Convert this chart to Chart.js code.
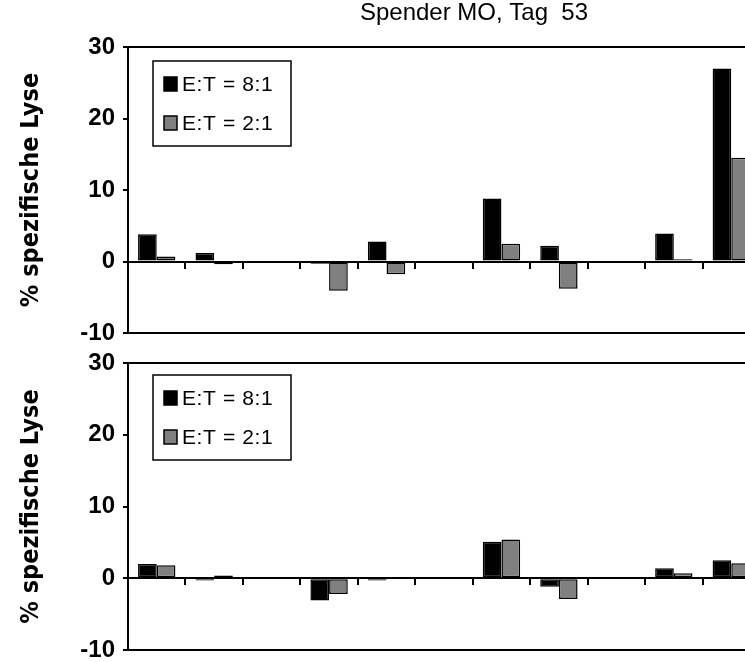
<!DOCTYPE html>
<html>
<head>
<meta charset="utf-8">
<script src="https://cdn.jsdelivr.net/npm/chart.js@4.4.1/dist/chart.umd.min.js"></script>
<style>
  html, body { margin: 0; padding: 0; background: #fff; overflow: hidden; }
  #wrap { position: relative; width: 745px; height: 662px; overflow: hidden; }
  .box { position: absolute; left: 0; width: 762px; }
</style>
</head>
<body>
<div id="wrap">
  <div class="box" style="top:0;height:360px"><canvas id="chartTop"></canvas></div>
  <div class="box" style="top:335px;height:342px"><canvas id="chartBottom"></canvas></div>
</div>
<script>
// 11 sample positions, three of them empty
const categories = ['1', '2', '3', '4', '5', '6', '7', '8', '9', '10', '11'];
const seriesNames = ['E:T = 8:1', 'E:T = 2:1'];
const yTicks = [-10, 0, 10, 20, 30];

// upper panel (Spender MO, Tag 53)
const topRatio8 = [3.8, 1.2, null, -0.3, 2.8, null, 8.8, 2.2, null, 3.9, 27.0];
const topRatio2 = [0.7, -0.4, null, -4.1, -1.8, null, 2.5, -3.8, null, 0.3, 14.5];

// lower panel
const bottomRatio8 = [2.0, -0.3, null, -3.1, -0.3, null, 5.1, -1.2, null, 1.4, 2.5];
const bottomRatio2 = [1.8, 0.4, null, -2.2, 0.1, null, 5.4, -2.9, null, 0.7, 2.1];

const titleText = 'Spender MO, Tag  53';
const yTitle = '% spezifische Lyse';

const frameBox = {
  id: 'frameBox',
  afterDraw(chart, args, opts) {
    const ctx = chart.ctx;
    const a = chart.chartArea;
    ctx.save();
    ctx.strokeStyle = '#000';
    ctx.lineWidth = 2;
    ctx.beginPath();
    ctx.moveTo(a.left, a.top);
    ctx.lineTo(a.right, a.top);
    ctx.lineTo(a.right, a.bottom);
    ctx.lineTo(a.left, a.bottom);
    ctx.stroke();

    // legend box
    const bx = a.left + 25, by = a.top + opts.legendTop, bw = 138, bh = 85;
    ctx.fillStyle = '#fff';
    ctx.fillRect(bx, by, bw, bh);
    ctx.lineWidth = 1.5;
    ctx.strokeRect(bx, by, bw, bh);
    ctx.font = '21px "Liberation Sans", Arial, sans-serif';
    ctx.letterSpacing = '0.6px';
    ctx.textBaseline = 'middle';
    chart.data.datasets.forEach((ds, i) => {
      const cy = by + 23 + i * 39;
      ctx.fillStyle = ds.backgroundColor;
      ctx.fillRect(bx + 11, cy - 7, 13, 14);
      ctx.lineWidth = 1.5;
      ctx.strokeStyle = '#000';
      ctx.strokeRect(bx + 11, cy - 7, 13, 14);
      ctx.fillStyle = '#000';
      ctx.fillText(ds.label, bx + 29, cy + 1);
    });
    ctx.letterSpacing = '0px';

    if (opts.title) {
      ctx.font = '24px "Liberation Sans", Arial, sans-serif';
      ctx.textAlign = 'center';
      ctx.textBaseline = 'middle';
      ctx.fillStyle = '#000';
      ctx.fillText(opts.title, 474, 13);
    }
    ctx.restore();
  }
};

function makeChart(id, high, low, pad, title, legendTop) {
  return new Chart(document.getElementById(id), {
    type: 'bar',
    data: {
      labels: categories,
      datasets: [
        { label: seriesNames[0], data: high, backgroundColor: '#000000',
          borderColor: '#000000', borderWidth: 1.5, borderSkipped: false },
        { label: seriesNames[1], data: low, backgroundColor: '#808080',
          borderColor: '#000000', borderWidth: 1.5, borderSkipped: false }
      ]
    },
    options: {
      responsive: true,
      maintainAspectRatio: false,
      animation: false,
      layout: { padding: { left: 0, right: 2, top: pad.top, bottom: pad.bottom } },
      categoryPercentage: 0.65,
      barPercentage: 1.0,
      scales: {
        x: {
          position: { y: 0 },
          afterFit(scale) { scale.height = 0; },
          ticks: { display: false },
          grid: { offset: true, drawOnChartArea: false, drawTicks: true,
                  tickLength: 6, color: '#000', lineWidth: 2 },
          border: { display: true, color: '#000', width: 2 }
        },
        y: {
          min: -10,
          max: 30,
          afterFit(scale) { scale.width = 128; },
          afterBuildTicks(scale) { scale.ticks = yTicks.map(v => ({ value: v })); },
          ticks: {
            color: '#000',
            padding: 8,
            font: { family: '"Liberation Sans", Arial, sans-serif', size: 24, weight: 'bold' }
          },
          grid: { drawOnChartArea: false, drawTicks: true, tickLength: 5,
                  color: '#000', lineWidth: 2 },
          border: { display: true, color: '#000', width: 2 },
          title: {
            display: true,
            text: yTitle,
            color: '#000',
            padding: { top: 16, bottom: 0 },
            font: { family: '"Liberation Sans Narrow", "DejaVu Sans Condensed", "Liberation Sans", sans-serif',
                    size: 25, weight: 'bold' }
          }
        }
      },
      plugins: {
        legend: { display: false },
        title: { display: false },
        tooltip: { enabled: false },
        frameBox: { title: title, legendTop: legendTop }
      }
    },
    plugins: [frameBox]
  });
}

makeChart('chartTop', topRatio8, topRatio2, { top: 47, bottom: 27 }, titleText, 14);
makeChart('chartBottom', bottomRatio8, bottomRatio2, { top: 28, bottom: 27 }, null, 12);
</script>
</body>
</html>
